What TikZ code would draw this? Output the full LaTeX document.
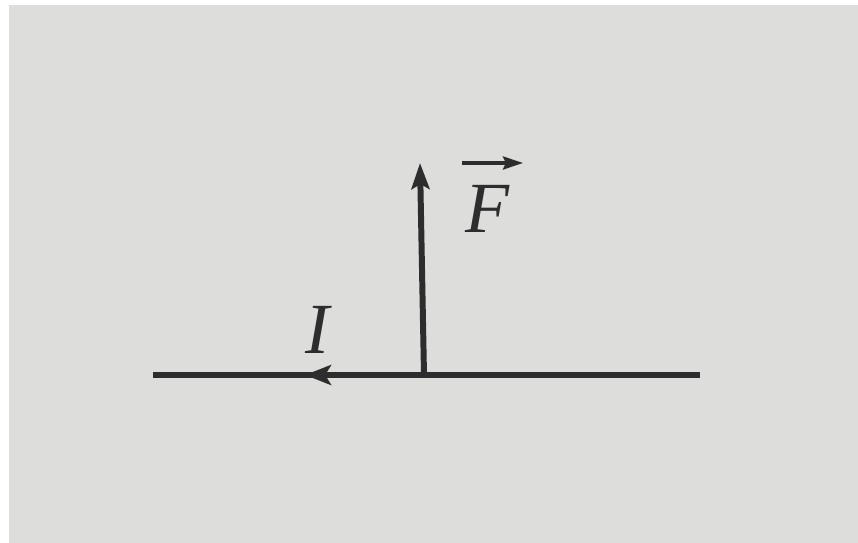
\documentclass[tikz,border=0pt]{standalone}
\usepackage{fontspec}
\setmainfont{Liberation Serif}
\usetikzlibrary{arrows.meta,decorations.markings}
\definecolor{paper}{RGB}{221,221,219}
\definecolor{ink}{RGB}{45,45,45}
\begin{document}
\begin{tikzpicture}[x=0.02cm,y=-0.02cm,
  wire/.style={draw=ink,line width=3.4pt},
  vecbar/.style={draw=ink,line width=2pt,-{Stealth[length=20*0.02cm,width=13*0.02cm,inset=3*0.02cm]}},
  lbl/.style={text=ink,inner sep=0pt,font=\fontsize{41}{41}\selectfont\itshape}]
\useasboundingbox (0,0) rectangle (858,543);
\fill[white] (0,0) rectangle (858,543);
\fill[paper] (9,5) rectangle (858,543);
\coordinate (L) at (153,375);
\coordinate (R) at (700,375);
\coordinate (O) at (424,375);
\coordinate (T) at (420,163);
\draw[wire,decoration={markings,mark=at position 0.722 with {\arrow{Stealth[length=26*0.02cm,width=20*0.02cm,inset=6*0.02cm]}}},postaction={decorate}] (R) -- (L);
\draw[wire,-{Stealth[length=26*0.02cm,width=18*0.02cm,inset=5*0.02cm]}] (O) -- (T);
\node[lbl] (F) at (487,209) {F};
\coordinate (va) at (462,163);
\coordinate (vb) at (523,163);
\draw[vecbar] (va) -- (vb);
\node[lbl] (I) at (317,330) {I};
\end{tikzpicture}
\end{document}
